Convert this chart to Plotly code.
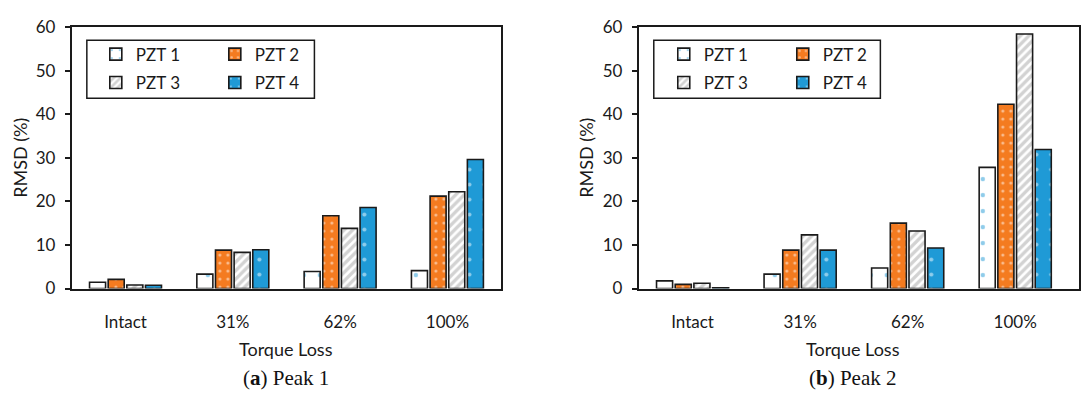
import plotly.graph_objects as go

categories = ["Intact", "31%", "62%", "100%"]
series_names = ["PZT 1", "PZT 2", "PZT 3", "PZT 4"]

peak1_pzt1 = [1.45, 3.3, 3.9, 4.1]
peak1_pzt2 = [2.1, 8.8, 16.7, 21.2]
peak1_pzt3 = [0.8, 8.3, 13.8, 22.2]
peak1_pzt4 = [0.75, 8.9, 18.6, 29.6]

peak2_pzt1 = [1.75, 3.3, 4.7, 27.8]
peak2_pzt2 = [0.95, 8.8, 15.0, 42.3]
peak2_pzt3 = [1.2, 12.3, 13.2, 58.4]
peak2_pzt4 = [0.15, 8.8, 9.3, 31.9]

y_ticks = [0, 10, 20, 30, 40, 50, 60]

W, H = 1081, 397
FONT = "Lato"
ORANGE = "#F47B20"
BLUE = "#1F9AD6"
GRAY = "#A6A6A6"
EDGE = "#1a1a1a"
TXT = "#1a1a1a"

styles = [
    dict(color="white", pattern=dict(shape=".", fgcolor=BLUE, size=16, solidity=0.06)),
    dict(color=ORANGE, pattern=dict(shape=".", fgcolor="white", size=8, solidity=0.12)),
    dict(color="white", pattern=dict(shape="/", fgcolor=GRAY, size=6, solidity=0.55)),
    dict(color=BLUE, pattern=dict(shape=".", fgcolor="white", size=15, solidity=0.06)),
]

def px(x):
    return x / W

def py(y):
    return 1 - y / H

fig = go.Figure()

panels = [
    ([peak1_pzt1, peak1_pzt2, peak1_pzt3, peak1_pzt4], "x", "y", ["legend", "legend2"]),
    ([peak2_pzt1, peak2_pzt2, peak2_pzt3, peak2_pzt4], "x2", "y2", ["legend3", "legend4"]),
]

for data, xa, ya, legs in panels:
    for i, (name, vals) in enumerate(zip(series_names, data)):
        st = styles[i]
        fig.add_trace(go.Bar(
            x=categories, y=vals, name=name, xaxis=xa, yaxis=ya,
            legend=legs[i // 2],
            marker=dict(color=st["color"], pattern=st["pattern"],
                        line=dict(color=EDGE, width=1.6)),
        ))

ydom = [py(293), py(17)]
axis_common = dict(showline=True, linecolor=EDGE, linewidth=2, mirror=True,
                   showgrid=False, zeroline=False,
                   tickfont=dict(family=FONT, size=17, color=TXT))

fig.update_layout(
    width=W, height=H, margin=dict(l=0, r=0, t=0, b=0),
    paper_bgcolor="white", plot_bgcolor="white",
    barmode="group", bargap=0.305, bargroupgap=0.14,
    xaxis=dict(domain=[px(72), px(502)], range=[-0.5, 3.5], type="category",
               categoryorder="array", categoryarray=categories,
               ticks="", ticklabelstandoff=17, anchor="y", **axis_common),
    yaxis=dict(domain=ydom, range=[0, 60], tickvals=y_ticks, ticks="outside",
               ticklen=5, tickcolor=EDGE, tickwidth=1.5, ticklabelstandoff=6,
               anchor="x", **axis_common),
    xaxis2=dict(domain=[px(640), 1], range=[-0.5, 3.593], type="category",
                categoryorder="array", categoryarray=categories,
                ticks="", ticklabelstandoff=17, anchor="y2", **axis_common),
    yaxis2=dict(domain=ydom, range=[0, 60], tickvals=y_ticks, ticks="outside",
                ticklen=5, tickcolor=EDGE, tickwidth=1.5, ticklabelstandoff=6,
                anchor="x2", **axis_common),
)

leg_common = dict(orientation="h", bgcolor="rgba(0,0,0,0)", borderwidth=0,
                  font=dict(family=FONT, size=17, color=TXT),
                  entrywidth=74, entrywidthmode="pixels", itemclick=False,
                  xanchor="left", yanchor="middle", itemwidth=30)
fig.update_layout(
    legend=dict(x=px(121 - 25), y=py(46), **leg_common),
    legend2=dict(x=px(121 - 25), y=py(76), **leg_common),
    legend3=dict(x=px(690 - 25), y=py(46), **leg_common),
    legend4=dict(x=px(690 - 25), y=py(76), **leg_common),
)

shapes = []
for x0, x1 in [(87, 315), (655, 882)]:
    shapes.append(dict(type="rect", xref="paper", yref="paper",
                       x0=px(x0), x1=px(x1), y0=py(92), y1=py(31),
                       line=dict(color=EDGE, width=1.5), fillcolor="rgba(0,0,0,0)"))
fig.update_layout(shapes=shapes)

annotations = []
for cx, ycx, cap in [(287, 20, "(<b>a</b>) Peak 1"), (855, 587, "(<b>b</b>) Peak 2")]:
    annotations.append(dict(text="Torque Loss", x=px(cx), y=py(357), xref="paper", yref="paper",
                            showarrow=False, xanchor="center", yanchor="middle",
                            font=dict(family=FONT, size=18, color=TXT)))
    annotations.append(dict(text="RMSD (%)", x=px(ycx), y=py(155), xref="paper", yref="paper",
                            showarrow=False, xanchor="center", yanchor="middle", textangle=-90,
                            font=dict(family=FONT, size=18, color=TXT)))
    annotations.append(dict(text=cap, x=px(cx), y=py(387), xref="paper", yref="paper",
                            showarrow=False, xanchor="center", yanchor="middle",
                            font=dict(family="Liberation Serif", size=21, color="#111")))
fig.update_layout(annotations=annotations)

fig.write_html("out.html")
